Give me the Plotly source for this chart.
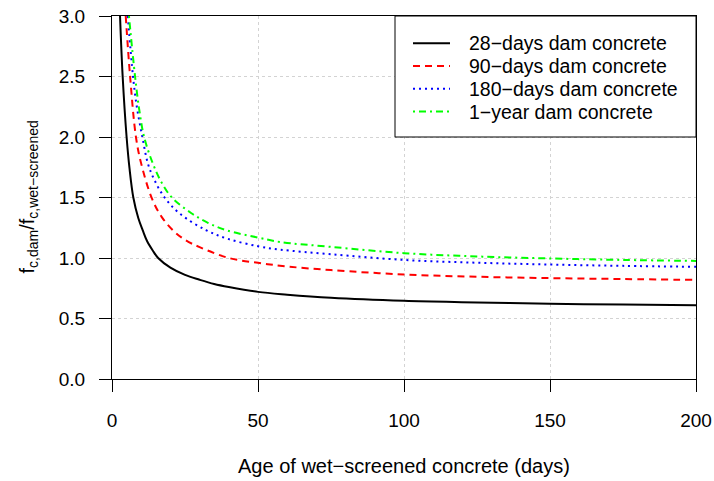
import plotly.graph_objects as go

# ---- data ----
age_28 = [2.75, 3.65, 5.0, 6.0, 7.3, 9.0, 10.5, 12.0, 14.0, 15.8, 20, 25, 30, 35, 40, 50, 60, 75, 100, 125, 150, 175, 200]
val_28 = [3.0, 2.5, 2.0, 1.74, 1.5, 1.33, 1.23, 1.14, 1.06, 1.0, 0.92, 0.86, 0.82, 0.785, 0.76, 0.72, 0.697, 0.671, 0.646, 0.633, 0.621, 0.615, 0.61]

age_90 = [4.7, 6.2, 8.2, 10.0, 13.7, 17.0, 21.0, 25.0, 30.0, 40.0, 50, 60, 75, 100, 125, 150, 175, 200]
val_90 = [3.0, 2.5, 2.0, 1.78, 1.49, 1.34, 1.226, 1.15, 1.09, 1.0, 0.96, 0.93, 0.90, 0.864, 0.845, 0.834, 0.826, 0.819]

age_180 = [5.4, 7.2, 8.5, 10.4, 12.3, 14.5, 18.0, 23.2, 32.3, 40, 50, 57.4, 75, 100, 125, 150, 175, 200]
val_180 = [3.0, 2.5, 2.25, 2.0, 1.78, 1.646, 1.5, 1.367, 1.229, 1.156, 1.097, 1.07, 1.031, 0.984, 0.961, 0.946, 0.935, 0.927]

age_365 = [5.8, 7.9, 9.3, 11.0, 14.0, 17.0, 20.5, 27.2, 33.0, 39.2, 50, 57.4, 75, 100, 125, 150, 175, 200]
val_365 = [3.0, 2.5, 2.23, 2.0, 1.78, 1.623, 1.5, 1.37, 1.289, 1.229, 1.169, 1.133, 1.092, 1.04, 1.013, 0.996, 0.984, 0.976]

series_names = ["28\u2212days dam concrete", "90\u2212days dam concrete",
                "180\u2212days dam concrete", "1\u2212year dam concrete"]
x_ticks = [0, 50, 100, 150, 200]
y_ticks = [0.0, 0.5, 1.0, 1.5, 2.0, 2.5, 3.0]

FONT = "Liberation Sans, Arial, Helvetica, sans-serif"

styles = [
    dict(color="#000000", width=2, dash="solid"),
    dict(color="#FF0000", width=2, dash="7px,5px"),
    dict(color="#0000FF", width=2, dash="2px,4px"),
    dict(color="#00FF00", width=2, dash="2px,4px,7px,4px"),
]

fig = go.Figure()
for xs, ys, name, st in zip([age_28, age_90, age_180, age_365],
                            [val_28, val_90, val_180, val_365],
                            series_names, styles):
    fig.add_trace(go.Scatter(x=xs, y=ys, mode="lines", name=name, showlegend=False,
                             line=dict(shape="spline", smoothing=1.0, **st)))

W, H = 714, 481
ml, mr, mt, mb = 112, 18, 16, 102
pw, ph = W - ml - mr, H - mt - mb

def px_x(px):
    return (px - ml) / pw

def px_y(py):
    return (H - mb - py) / ph

axis_common = dict(showline=True, linecolor="black", linewidth=1, mirror=True,
                   ticks="outside", ticklen=12, tickcolor="black", tickwidth=1,
                   showgrid=True, gridcolor="#d3d3d3", gridwidth=1, griddash="dot",
                   zeroline=False, automargin=False,
                   tickfont=dict(family=FONT, size=19, color="black"))

# legend box drawn from the trace styles and names
shapes = [dict(type="rect", xref="paper", yref="paper",
               x0=px_x(395), x1=1.0, y0=px_y(137), y1=1.0,
               fillcolor="white", line=dict(color="black", width=1), layer="above")]
annotations = [
    dict(text="Age of wet\u2212screened concrete (days)", xref="paper", yref="paper",
         x=0.5, y=px_y(466), xanchor="center", yanchor="middle", showarrow=False,
         font=dict(family=FONT, size=20, color="black")),
    dict(text="f<sub>c,dam</sub>/f<sub>c,wet\u2212screened</sub>", xref="paper", yref="paper",
         x=px_x(28), y=0.5, xanchor="center", yanchor="middle", showarrow=False,
         textangle=-90, font=dict(family=FONT, size=20, color="black")),
]
for i, (name, st) in enumerate(zip(series_names, styles)):
    yc = px_y(43.2 + 22.8 * i)
    shapes.append(dict(type="line", xref="paper", yref="paper",
                       x0=px_x(413), x1=px_x(450), y0=yc, y1=yc,
                       line=dict(color=st["color"], width=st["width"], dash=st["dash"]),
                       layer="above"))
    annotations.append(dict(text=name, xref="paper", yref="paper",
                            x=px_x(467), y=yc, xanchor="left", yanchor="middle",
                            showarrow=False,
                            font=dict(family=FONT, size=19.5, color="black")))

fig.update_layout(
    width=W, height=H,
    margin=dict(l=ml, r=mr, t=mt, b=mb, pad=0, autoexpand=False),
    paper_bgcolor="white", plot_bgcolor="white",
    font=dict(family=FONT, size=19, color="black"),
    xaxis=dict(range=[0, 200], tickvals=x_ticks, ticklabelstandoff=12, **axis_common),
    yaxis=dict(range=[0, 3], tickvals=y_ticks, tickformat=".1f", ticklabelstandoff=10, **axis_common),
    showlegend=False,
    shapes=shapes,
    annotations=annotations,
)

fig.write_html("out.html")
